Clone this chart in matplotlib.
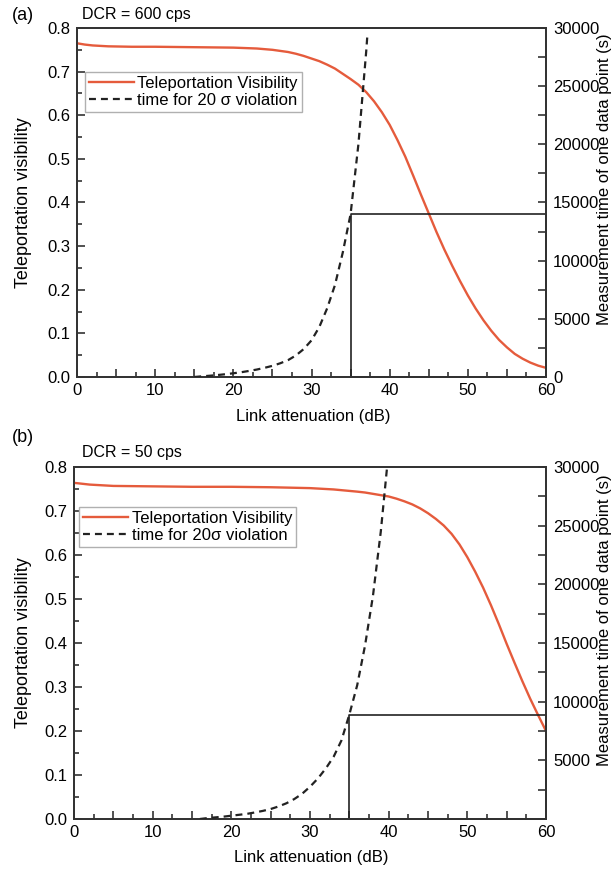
import matplotlib
matplotlib.use('Agg')
import matplotlib.pyplot as plt
from matplotlib.ticker import MultipleLocator, FuncFormatter, FixedLocator, FormatStrFormatter

plt.rcParams['font.family'] = ['Liberation Sans', 'DejaVu Sans']
plt.rcParams['lines.scale_dashes'] = False

# ---------------- data ----------------
# panel (a): DCR = 600 cps
vis_x_a = [0, 1, 2, 4, 7, 10, 15, 20, 23, 25, 27, 28, 29, 30, 31, 32, 33, 34, 35, 36, 37, 38, 39,
           40, 41, 42, 43, 44, 45, 46, 47, 48, 49, 50, 51, 52, 53, 54, 55, 56, 57, 58, 59, 60]
vis_a = [0.765, 0.762, 0.760, 0.758, 0.757, 0.757, 0.756, 0.755, 0.753, 0.750, 0.745, 0.741,
         0.736, 0.730, 0.724, 0.716, 0.707, 0.695, 0.683, 0.670, 0.653, 0.632, 0.607, 0.578,
         0.543, 0.505, 0.462, 0.418, 0.375, 0.332, 0.292, 0.255, 0.220, 0.187, 0.157, 0.130,
         0.106, 0.085, 0.068, 0.053, 0.042, 0.033, 0.026, 0.021]
time_x_a = [15, 16, 17, 18, 19, 20, 21, 22, 23, 24, 25, 26, 27, 28, 29, 30, 31, 32, 33, 34, 35, 36, 37, 37.15]
time_a = [0, 60, 110, 170, 240, 320, 410, 520, 640, 790, 960, 1180, 1450, 1850, 2400, 3150,
          4300, 5900, 7900, 10700, 14000, 20000, 28000, 29400]
box_a = [35, 60, 14000]   # x start, x end, height (s)

# panel (b): DCR = 50 cps
vis_x_b = [0, 1, 2, 5, 10, 15, 20, 25, 30, 33, 36, 37, 38, 39, 40, 41, 42, 43, 44, 45, 46, 47,
           48, 49, 50, 51, 52, 53, 54, 55, 56, 57, 58, 59, 60]
vis_b = [0.764, 0.762, 0.760, 0.757, 0.756, 0.755, 0.755, 0.754, 0.752, 0.749, 0.744, 0.742,
         0.739, 0.736, 0.733, 0.728, 0.722, 0.715, 0.706, 0.695, 0.682, 0.667, 0.648, 0.624,
         0.595, 0.562, 0.526, 0.486, 0.443, 0.398, 0.355, 0.313, 0.273, 0.236, 0.200]
time_x_b = [16, 17, 18, 19, 20, 21, 22, 23, 24, 25, 26, 27, 28, 29, 30, 31, 32, 33, 34, 35, 36, 37, 38, 39, 39.8]
time_b = [0, 80, 140, 200, 280, 360, 440, 560, 690, 850, 1070, 1340, 1700, 2150, 2750, 3450,
          4300, 5300, 6700, 8900, 11400, 14800, 19000, 24500, 30000]
box_b = [35, 60, 8900]

panel_labels = ['(a)', '(b)']
dcr_labels = ['DCR = 600 cps', 'DCR = 50 cps']
legend_vis = 'Teleportation Visibility'
legend_time = ['time for 20 \u03c3 violation', 'time for 20\u03c3 violation']
xlabel = 'Link attenuation (dB)'
ylabel_left = 'Teleportation visibility'
ylabel_right = 'Measurement time of one data point (s)'

RED = '#E55B3C'
W, H = 613, 871
fig = plt.figure(figsize=(W / 100, H / 100), dpi=100)

# pixel geometry of each axes: left, right, top, bottom
geo = [(77, 546, 28, 377), (74, 546, 467, 819)]
legend_anchor = [(0.017, 0.874), (0.011, 0.887)]
text_y = [15, 452]
plabel_y = [15, 437]

panels = [
    (vis_x_a, vis_a, time_x_a, time_a, box_a, True),
    (vis_x_b, vis_b, time_x_b, time_b, box_b, False),
]

for i, (vx, vy, tx, ty, box, zero_label) in enumerate(panels):
    l, r, t, b = geo[i]
    ax = fig.add_axes([l / W, 1 - b / H, (r - l) / W, (b - t) / H])
    ax2 = ax.twinx()

    ax.set_xlim(0, 60)
    ax.set_ylim(0, 0.8)
    ax2.set_ylim(0, 30000)

    red_line, = ax.plot(vx, vy, color=RED, lw=1.7, zorder=3, solid_joinstyle='round')
    dash_line, = ax2.plot(tx, ty, color='#222222', lw=1.6, dashes=(5, 3.6), zorder=3)
    x0, x1, hh = box
    ax2.plot([x0, x0, x1, x1, x0], [0, hh, hh, 0, 0], color='#222222', lw=1.2,
             clip_on=False, zorder=2)

    # ticks
    ax.xaxis.set_major_locator(MultipleLocator(5))
    ax.xaxis.set_minor_locator(MultipleLocator(2.5))
    ax.xaxis.set_major_formatter(FuncFormatter(
        lambda v, p: f'{int(round(v))}' if abs(v / 10 - round(v / 10)) < 1e-6 else ''))
    ax.yaxis.set_major_locator(MultipleLocator(0.1))
    ax.yaxis.set_minor_locator(MultipleLocator(0.05))
    ax.yaxis.set_major_formatter(FormatStrFormatter('%.1f'))
    if zero_label:
        ax2.yaxis.set_major_locator(MultipleLocator(5000))
    else:
        ax2.yaxis.set_major_locator(FixedLocator([5000, 10000, 15000, 20000, 25000, 30000]))
    ax2.yaxis.set_minor_locator(MultipleLocator(2500))
    ax2.yaxis.set_major_formatter(FormatStrFormatter('%d'))

    ax.tick_params(axis='both', which='both', direction='in', labelsize=12,
                   top=False, right=False, colors='#222222', labelcolor='black')
    ax.tick_params(axis='both', which='major', length=6, width=1.1)
    ax.tick_params(axis='both', which='minor', length=3.5, width=1.1)
    ax.tick_params(axis='y', pad=5)
    ax.tick_params(axis='x', pad=4)
    ax2.tick_params(axis='y', which='both', direction='in', labelsize=12, pad=5,
                    colors='#222222', labelcolor='black')
    ax2.tick_params(axis='y', which='major', length=6, width=1.1)
    ax2.tick_params(axis='y', which='minor', length=6, width=1.1)

    for a in (ax, ax2):
        for s in a.spines.values():
            s.set_linewidth(1.3)
            s.set_color('#333333')

    ax.set_xlabel(xlabel, fontsize=12)
    ax.xaxis.set_label_coords(0.503, -0.092 if i == 0 else -0.088)
    ax.set_ylabel(ylabel_left, fontsize=13)
    ax.yaxis.set_label_coords(-0.096 if i == 0 else -0.089, 0.5)
    ax2.set_ylabel(ylabel_right, fontsize=12, rotation=90, va='top')
    ax2.yaxis.set_label_coords(1.109, 0.566)

    leg = ax2.legend([red_line, dash_line], [legend_vis, legend_time[i]],
                     loc='upper left', bbox_to_anchor=legend_anchor[i], borderaxespad=0,
                     fontsize=12, frameon=True, fancybox=False, framealpha=1,
                     edgecolor='#b0b0b0', handlelength=2.7, handletextpad=0.2,
                     labelspacing=0.12, borderpad=0.25)
    leg.get_frame().set_linewidth(1.0)

    fig.text(12 / W, 1 - plabel_y[i] / H, panel_labels[i], fontsize=13,
             ha='left', va='center')
    fig.text(82 / W, 1 - text_y[i] / H, dcr_labels[i], fontsize=11.5,
             ha='left', va='center')

fig.savefig('out.png', dpi=100)
